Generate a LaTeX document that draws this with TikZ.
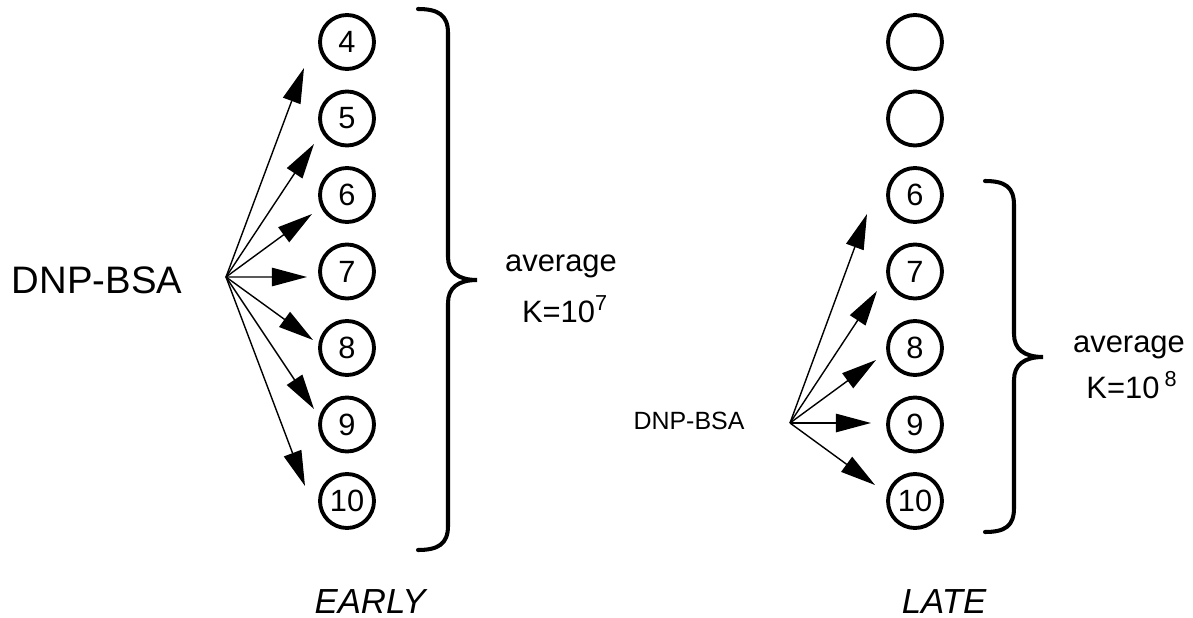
\documentclass[tikz,border=0pt]{standalone}
\usepackage{fontspec}
\setmainfont{Liberation Sans}
\usetikzlibrary{arrows.meta}

\begin{document}
\begin{tikzpicture}[
    x=0.02cm, y=-0.02cm,
    site/.style={circle, draw, line width=2.2pt, minimum size=1.08cm,
                 inner sep=0pt, font=\fontsize{17.5}{19}\selectfont},
    arr/.style={-{Triangle[length=20pt, width=10.5pt]}, line width=0.8pt},
    brace/.style={line width=2.3pt, line cap=round},
    antigen/.style={inner sep=0pt, font=\fontsize{21.8}{25}\selectfont},
    antigensm/.style={inner sep=0pt, font=\fontsize{14.2}{17}\selectfont},
    avg/.style={inner sep=0pt, anchor=base, font=\fontsize{17.6}{21}\selectfont},
    stage/.style={inner sep=0pt, anchor=base,
                  font=\fontsize{19.8}{23}\selectfont\itshape},
  ]
  \useasboundingbox (0,0) rectangle (1193,618);

  % ===== Early response (left) =====
  \node[antigen] (agL) at (97,280) {DNP-BSA};
  \coordinate (fanL) at (226,277);

  \node[site] (e4)  at (347,42)    {4};
  \node[site] (e5)  at (347,118.5) {5};
  \node[site] (e6)  at (347,195)   {6};
  \node[site] (e7)  at (347,271.5) {7};
  \node[site] (e8)  at (347,348)   {8};
  \node[site] (e9)  at (347,424.5) {9};
  \node[site] (e10) at (347,501)   {10};

  % arrows stop short, left of each site
  \draw[arr] (fanL) -- ([shift={(-43,26)}]e4.center);
  \draw[arr] (fanL) -- ([shift={(-33,25.5)}]e5.center);
  \draw[arr] (fanL) -- ([shift={(-35,19)}]e6.center);
  \draw[arr] (fanL) -- ([shift={(-40,5.5)}]e7.center);
  \draw[arr] (fanL) -- ([shift={(-34,-8)}]e8.center);
  \draw[arr] (fanL) -- ([shift={(-33,-15.5)}]e9.center);
  \draw[arr] (fanL) -- ([shift={(-42,-15)}]e10.center);

  % brace over all seven sites
  \draw[brace] (418,9) .. controls (438,9) and (448,15) .. (448,33)
    -- (448,257) .. controls (448,272) and (458,280) .. (477,280)
    .. controls (458,280) and (448,288) .. (448,303)
    -- (448,526) .. controls (448,544) and (438,550) .. (418,550);

  \node[avg] (avgL) at (561,272) {average};
  \node[avg] (kL)   at (565,322) {K=10\textsuperscript{7}};

  \node[stage] (early) at (370,613) {EARLY};

  % ===== Late response (right) =====
  \node[antigensm] (agR) at (689,421) {DNP-BSA};
  \coordinate (fanR) at (790,423);

  \node[site] (l4)  at (915,42)    {};
  \node[site] (l5)  at (915,118.5) {};
  \node[site] (l6)  at (915,195)   {6};
  \node[site] (l7)  at (915,271.5) {7};
  \node[site] (l8)  at (915,348)   {8};
  \node[site] (l9)  at (915,424.5) {9};
  \node[site] (l10) at (915,501)   {10};

  \draw[arr] (fanR) -- ([shift={(-48,19)}]l6.center);
  \draw[arr] (fanR) -- ([shift={(-38,19.5)}]l7.center);
  \draw[arr] (fanR) -- ([shift={(-39,12)}]l8.center);
  \draw[arr] (fanR) -- ([shift={(-44,-1.5)}]l9.center);
  \draw[arr] (fanR) -- ([shift={(-40,-16)}]l10.center);

  % brace over sites 6 to 10 only
  \draw[brace] (985,181) .. controls (1005,181) and (1014,187) .. (1014,205)
    -- (1014,334) .. controls (1014,349) and (1024,357) .. (1043,357)
    .. controls (1024,357) and (1014,365) .. (1014,380)
    -- (1014,508) .. controls (1014,526) and (1005,532) .. (985,532);

  \node[avg] (avgR) at (1129,352) {average};
  \node[avg] (kR)   at (1132,398) {K=10\,\textsuperscript{8}};

  \node[stage] (late) at (944,613) {LATE};

\end{tikzpicture}
\end{document}
